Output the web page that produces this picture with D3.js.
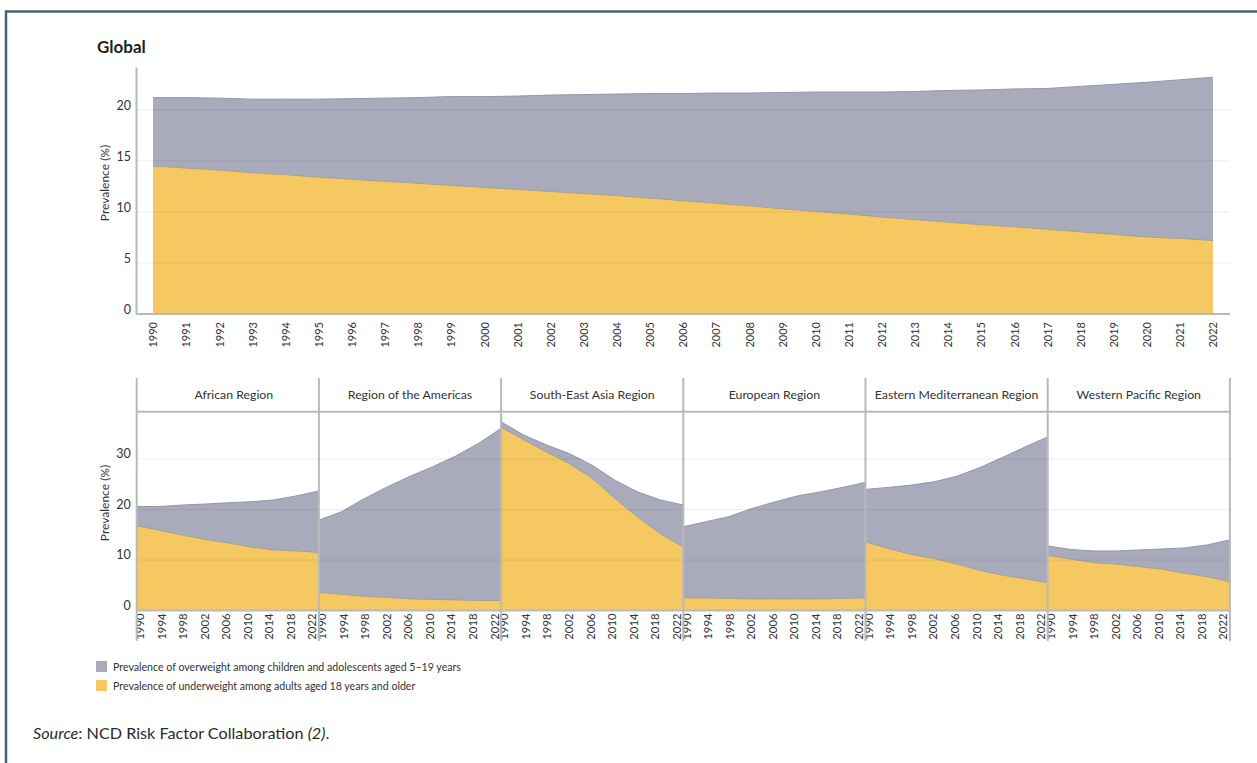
<!DOCTYPE html>
<html><head><meta charset="utf-8">
<script src="https://cdn.jsdelivr.net/npm/d3@7"></script>
<style>
body{margin:0;background:#fff}
svg{display:block;font-family:Lato,"Noto Sans",sans-serif}
</style>
</head><body>
<svg id="c" width="1257" height="763"></svg>
<script>
// ---------- DATA ----------
const globalYears = [1990,1991,1992,1993,1994,1995,1996,1997,1998,1999,2000,2001,2002,2003,2004,2005,2006,2007,2008,2009,2010,2011,2012,2013,2014,2015,2016,2017,2018,2019,2020,2021,2022];
const globalUnderweight = [14.5,14.3,14.1,13.85,13.65,13.4,13.2,13.0,12.8,12.6,12.4,12.2,12.0,11.8,11.6,11.35,11.1,10.85,10.6,10.3,10.05,9.8,9.5,9.25,9.0,8.75,8.55,8.3,8.05,7.8,7.55,7.4,7.2];
const globalOverweight  = [6.7,6.9,7.05,7.2,7.4,7.65,7.9,8.15,8.4,8.7,8.9,9.15,9.45,9.7,9.95,10.25,10.5,10.8,11.05,11.4,11.7,11.95,12.25,12.55,12.9,13.2,13.5,13.8,14.25,14.7,15.15,15.55,16.0];

const regionYears = [1990,1994,1998,2002,2006,2010,2014,2018,2022];
const regionNames = ["African Region","Region of the Americas","South-East Asia Region","European Region","Eastern Mediterranean Region","Western Pacific Region"];
const afrUnder = [16.8,15.9,14.95,14.1,13.4,12.6,12.0,11.8,11.5];
const afrOver  = [3.8,4.7,5.95,7.0,7.95,8.95,9.9,10.9,12.2];
const amrUnder = [3.6,3.2,2.8,2.6,2.3,2.2,2.1,2.0,2.0];
const amrOver  = [14.3,16.4,19.4,21.9,24.3,26.3,28.5,31.1,34.1];
const searUnder = [36.3,33.8,31.4,29.1,26.2,22.2,18.5,15.2,12.6];
const searOver  = [1.1,0.95,1.4,2.0,2.6,3.6,5.0,6.7,8.3];
const eurUnder = [2.5,2.5,2.4,2.3,2.3,2.3,2.3,2.4,2.5];
const eurOver  = [14.1,15.1,16.2,17.9,19.2,20.4,21.2,22.0,22.9];
const emrUnder = [13.6,12.3,11.1,10.3,9.2,8.0,7.0,6.3,5.5];
const emrOver  = [10.4,12.1,13.75,15.2,17.4,20.3,23.3,26.1,28.9];
const wprUnder = [10.9,10.2,9.5,9.2,8.7,8.2,7.4,6.7,5.7];
const wprOver  = [1.9,1.9,2.3,2.6,3.3,4.0,5.0,6.3,8.3];

const globalYTicks = [0,5,10,15,20];
const regionYTicks = [0,10,20,30];
const seriesLabels = ["Prevalence of overweight among children and adolescents aged 5–19 years","Prevalence of underweight among adults aged 18 years and older"];

// ---------- STYLE ----------
const C_GRAY = "#a9abbd", C_YEL = "#f6c862";
const AX = "#b9b9b9", TXT = "#333";
const svg = d3.select("#c");

// frame
svg.append("path").attr("d","M6,763V11.5H1257").attr("fill","none").attr("stroke","#4b6274").attr("stroke-width",2.5);

// ---------- GLOBAL ----------
svg.append("text").attr("x",97).attr("y",53).attr("font-size",17).attr("font-weight","bold").attr("fill","#1e1e1e").text("Global");

const gx = d3.scaleLinear().domain([1990,2022]).range([153,1213]);
const gy = d3.scaleLinear().domain([0,24.2]).range([314,67]);
const gRows = globalYears.map((yr,i)=>({year:yr, under:globalUnderweight[i], over:globalOverweight[i]}));
const stack = d3.stack().keys(["under","over"]);
const gStack = stack(gRows);

const G = svg.append("g");
const area = (xs, ys) => d3.area().x(d=>xs(d.data.year)).y0(d=>ys(d[0])).y1(d=>ys(d[1]));
const line = (xs, ys) => d3.line().x(d=>xs(d.data.year)).y(d=>ys(d[1]));
G.selectAll("path.a").data(gStack).join("path")
  .attr("d", area(gx,gy)).attr("fill",(d,i)=>i===0?C_YEL:C_GRAY);
G.selectAll("path.l").data(gStack).join("path")
  .attr("d", line(gx,gy)).attr("fill","none").attr("stroke",(d,i)=>i===0?"#a89f88":"#9497aa").attr("stroke-width",1);

// grid
G.append("g").selectAll("line").data(globalYTicks.filter(t=>t>0)).join("line")
  .attr("x1",137).attr("x2",1230).attr("y1",d=>gy(d)).attr("y2",d=>gy(d))
  .attr("stroke","#000").attr("stroke-opacity",0.075);

// y axis
const gyAxis = G.append("g").attr("transform","translate(136,0)")
  .call(d3.axisLeft(gy).tickValues(globalYTicks).tickSize(0).tickPadding(5).tickSizeOuter(0));
gyAxis.select(".domain").attr("stroke",AX).attr("stroke-width",2);
gyAxis.selectAll("text").attr("font-size",12.5).attr("fill",TXT).attr("font-family","Lato").attr("dy","-0.05em");
svg.append("text").attr("transform","translate(109,183) rotate(-90)").attr("text-anchor","middle")
  .attr("font-size",12).attr("fill",TXT).text("Prevalence (%)");

// x axis
G.append("line").attr("x1",136).attr("x2",1230).attr("y1",314).attr("y2",314).attr("stroke",AX).attr("stroke-width",2);
const gxAxis = G.append("g").attr("transform","translate(0,314)")
  .call(d3.axisBottom(gx).tickValues(globalYears).tickFormat(d3.format("d")).tickSize(0));
gxAxis.select(".domain").remove();
gxAxis.selectAll("text").attr("transform","rotate(-90)").attr("text-anchor","end")
  .attr("x",-8).attr("y",0).attr("dy","0.35em").attr("font-size",11).attr("fill",TXT).attr("font-family","Lato");

// ---------- REGIONS ----------
const regionUnder = [afrUnder,amrUnder,searUnder,eurUnder,emrUnder,wprUnder];
const regionOver  = [afrOver,amrOver,searOver,eurOver,emrOver,wprOver];
const pLeft = 136.7, pW = 182.2, pTop = 378, hdrY = 411.7, base = 610.5, pBottom = 641;
const ry = d3.scaleLinear().domain([0,39.4]).range([base,hdrY]);
const R = svg.append("g");

regionNames.forEach((name,i)=>{
  const x0 = pLeft + i*pW, x1 = x0 + pW;
  const rx = d3.scaleLinear().domain([1990,2022]).range([x0,x1]);
  const rows = regionYears.map((yr,j)=>({year:yr, under:regionUnder[i][j], over:regionOver[i][j]}));
  const st = stack(rows);
  const g = R.append("g");
  g.selectAll("path.a").data(st).join("path").attr("d",area(rx,ry)).attr("fill",(d,k)=>k===0?C_YEL:C_GRAY);
  g.selectAll("path.l").data(st).join("path").attr("d",line(rx,ry)).attr("fill","none")
    .attr("stroke",(d,k)=>k===0?"#a89f88":"#9497aa").attr("stroke-width",1);
  g.append("text").attr("x",(x0+x1)/2 + (i===0?6:0)).attr("y",395).attr("dy","0.35em").attr("text-anchor","middle")
    .attr("font-size",12.3).attr("fill",TXT).text(name);
  // tick labels (slightly inset like the original)
  const lx = d3.scaleLinear().domain([1990,2022]).range([x0+2.8,x1-7]);
  const ax = g.append("g").attr("transform",`translate(0,${base})`)
    .call(d3.axisBottom(lx).tickValues(regionYears).tickFormat(d3.format("d")).tickSize(0));
  ax.select(".domain").remove();
  ax.selectAll("text").attr("transform","rotate(-90)").attr("text-anchor","end")
    .attr("x",-3).attr("y",0).attr("dy","0.35em").attr("font-size",11.3).attr("fill",TXT).attr("font-family","Lato");
});

// grid lines
R.append("g").selectAll("line").data(regionYTicks.filter(t=>t>0)).join("line")
  .attr("x1",pLeft).attr("x2",pLeft+6*pW).attr("y1",d=>ry(d)).attr("y2",d=>ry(d))
  .attr("stroke","#000").attr("stroke-opacity",0.075);
// header line and baseline
R.append("line").attr("x1",pLeft).attr("x2",pLeft+6*pW).attr("y1",hdrY).attr("y2",hdrY).attr("stroke",AX).attr("stroke-width",2);
R.append("line").attr("x1",pLeft).attr("x2",pLeft+6*pW).attr("y1",base).attr("y2",base).attr("stroke",AX).attr("stroke-width",2);
// dividers
R.append("g").selectAll("line").data(d3.range(7)).join("line")
  .attr("x1",d=>pLeft+d*pW).attr("x2",d=>pLeft+d*pW).attr("y1",pTop).attr("y2",pBottom)
  .attr("stroke",AX).attr("stroke-width",2);
// y axis
const ryAxis = R.append("g").attr("transform",`translate(${pLeft},0)`)
  .call(d3.axisLeft(ry).tickValues(regionYTicks).tickSize(0).tickPadding(6));
ryAxis.select(".domain").remove();
ryAxis.selectAll("text").attr("font-size",12.5).attr("fill",TXT).attr("font-family","Lato").attr("dy","-0.1em");
svg.append("text").attr("transform","translate(109,503) rotate(-90)").attr("text-anchor","middle")
  .attr("font-size",12).attr("fill",TXT).text("Prevalence (%)");

// ---------- LEGEND ----------
const L = svg.append("g");
[C_GRAY,C_YEL].forEach((c,i)=>{
  L.append("rect").attr("x",96).attr("y",661+i*19).attr("width",11).attr("height",11).attr("fill",c);
  L.append("text").attr("x",113).attr("y",667+i*19).attr("dy","0.35em").attr("font-size",10.6).attr("fill",TXT).text(seriesLabels[i]);
});

// ---------- SOURCE ----------
const s = svg.append("text").attr("x",33).attr("y",739).attr("font-size",16.2).attr("fill","#2a2a2a");
s.append("tspan").attr("font-style","italic").text("Source");
s.append("tspan").text(": NCD Risk Factor Collaboration ");
s.append("tspan").attr("font-style","italic").text("(2)");
s.append("tspan").text(".");
</script>
</body></html>
